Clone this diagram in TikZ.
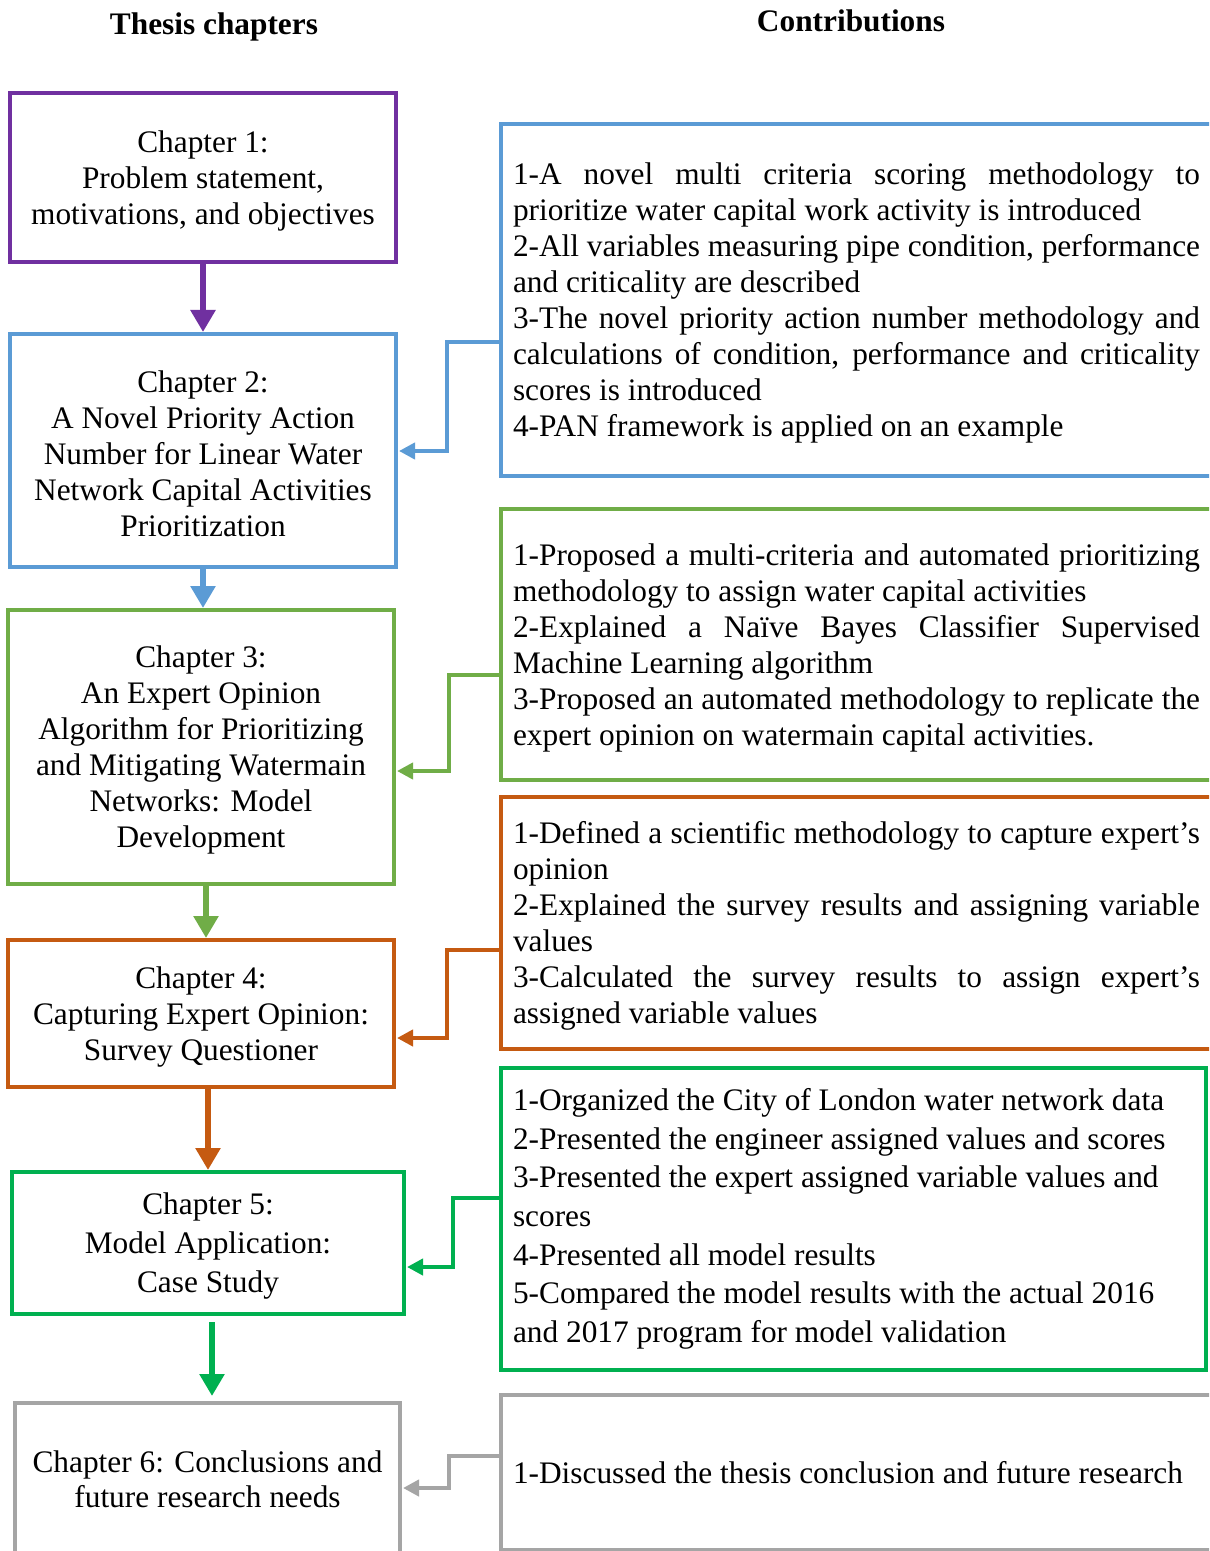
\documentclass[tikz,border=0pt]{standalone}
\usepackage{fontspec}
\setmainfont{Liberation Serif}
\usetikzlibrary{arrows.meta}
% one drawing unit = 0.75pt
\newdimen\pxu \pxu=0.75pt
\definecolor{cpurple}{HTML}{7030A0}
\definecolor{cblue}{HTML}{5B9BD5}
\definecolor{clgreen}{HTML}{70AD47}
\definecolor{corange}{HTML}{C55A11}
\definecolor{cgreen}{HTML}{00B050}
\definecolor{cgray}{HTML}{A5A5A5}
% justified / left-aligned lines of the contribution boxes
\newcommand\jl[1]{\makebox[687\pxu][s]{#1}}
\newcommand\rl[1]{\makebox[687\pxu][l]{#1}}
\newcommand\ql[1]{\makebox[681\pxu][l]{#1}}
% taller first line, lowers a text block slightly inside its box
\newcommand\st{\rule{0pt}{21pt}}
\begin{document}
\begin{tikzpicture}[x=0.75pt,y=-0.75pt,
  txt/.style={font=\fontsize{23.5}{27}\selectfont},
  heading/.style={font=\fontsize{23.5}{27}\selectfont\bfseries},
  chbox/.style={draw, line width=3pt, rectangle, align=center, inner sep=2pt, txt},
  cbox/.style={draw, line width=3pt, rectangle, align=left, inner sep=2pt, txt},
  mainarr/.style={line width=4.875pt, -{Triangle[length=16.5pt,width=18pt]}},
  conn/.style={line width=3.375pt, -{Triangle[length=12pt,width=12pt]}, shorten >=0.75pt}]
\useasboundingbox (0,0) rectangle (1209,1551);
\clip (0,0) rectangle (1209,1551);
\fill[white] (0,0) rectangle (1209,1551);

% column headings
\node[heading] (h1) at (214,27) {Thesis chapters};
\node[heading] (h2) at (851,21) {Contributions};

% thesis chapters
\node[chbox, draw=cpurple, minimum width=289.5pt, minimum height=126.75pt] (c1) at (203,177.5)
  {\st Chapter 1:\\ Problem statement,\\ motivations, and objectives};
\node[chbox, draw=cblue, minimum width=289.5pt, minimum height=174.75pt] (c2) at (203,450.5)
  {\st Chapter 2:\\ A Novel Priority Action\\ Number for Linear Water\\ Network Capital Activities\\ Prioritization};
\node[chbox, draw=clgreen, minimum width=289.5pt, minimum height=205.5pt] (c3) at (201,747)
  {\st Chapter 3:\\ An Expert Opinion\\ Algorithm for Prioritizing\\ and Mitigating Watermain\\ Networks: Model\\ Development};
\node[chbox, draw=corange, minimum width=289.5pt, minimum height=110.25pt] (c4) at (201,1013.5)
  {\st Chapter 4:\\ Capturing Expert Opinion:\\ Survey Questioner};
\node[chbox, draw=cgreen, minimum width=294pt, minimum height=106.5pt, font=\fontsize{23.5}{29}\selectfont] (c5) at (208,1243)
  {\st Chapter 5:\\ Model Application:\\ Case Study};
\node[chbox, draw=cgray, minimum width=288.75pt, minimum height=114.75pt, font=\fontsize{23.5}{26.3}\selectfont] (c6) at (207.5,1479.5)
  {Chapter 6: Conclusions and\\ future research needs};

% contributions
\node[cbox, draw=cblue, minimum width=533.25pt, minimum height=264pt] (r1) at (856.5,300)
  {\st\jl{1-A novel multi criteria scoring methodology to}\\
   \rl{prioritize water capital work activity is introduced}\\
   \jl{2-All variables measuring pipe condition, performance}\\
   \rl{and criticality are described}\\
   \jl{3-The novel priority action number methodology and}\\
   \jl{calculations of condition, performance and criticality}\\
   \rl{scores is introduced}\\
   \rl{4-PAN framework is applied on an example}};
\node[cbox, draw=clgreen, minimum width=533.25pt, minimum height=203.25pt] (r2) at (856.5,644.5)
  {\st\jl{1-Proposed a multi-criteria and automated prioritizing}\\
   \rl{methodology to assign water capital activities}\\
   \jl{2-Explained a Naïve Bayes Classifier Supervised}\\
   \rl{Machine Learning algorithm}\\
   \jl{3-Proposed an automated methodology to replicate the}\\
   \rl{expert opinion on watermain capital activities.}};
\node[cbox, draw=corange, minimum width=533.25pt, minimum height=189pt] (r3) at (856.5,923)
  {\st\jl{1-Defined a scientific methodology to capture expert’s}\\
   \rl{opinion}\\
   \jl{2-Explained the survey results and assigning variable}\\
   \rl{values}\\
   \jl{3-Calculated the survey results to assign expert’s}\\
   \rl{assigned variable values}};
\node[cbox, draw=cgreen, minimum width=528.75pt, minimum height=226.5pt, font=\fontsize{23.5}{29}\selectfont] (r4) at (853.5,1219)
  {\ql{1-Organized the City of London water network data}\\
   \ql{2-Presented the engineer assigned values and scores}\\
   \ql{3-Presented the expert assigned variable values and}\\
   \ql{scores}\\
   \ql{4-Presented all model results}\\
   \ql{5-Compared the model results with the actual 2016}\\
   \ql{and 2017 program for model validation}};
\node[cbox, draw=cgray, minimum width=533.25pt, minimum height=116.25pt] (r5) at (856.5,1472.5)
  {\rl{1-Discussed the thesis conclusion and future research}};

% chapter sequence
\draw[mainarr, cpurple] (c1.south) -- (c2.north);
\draw[mainarr, cblue] (c2.south) -- (c2.south |- c3.north);
\draw[mainarr, clgreen] ([xshift=3.75pt]c3.south) -- ([xshift=3.75pt]c4.north);
\draw[mainarr, corange] (c5.north |- c4.south) -- (c5.north);
\draw[mainarr, cgreen] ([xshift=3pt,yshift=-4.5pt]c5.south) -- ([xshift=3.375pt,yshift=3.75pt]c6.north);

% contributions feeding the chapters
\draw[conn, cblue] ([yshift=-31.5pt]r1.west) -- ++(-52,0) |- ([yshift=-0.375pt]c2.east);
\draw[conn, clgreen] ([yshift=-22.875pt]r2.west) -- ++(-50,0) |- ([yshift=-18pt]c3.east);
\draw[conn, corange] ([yshift=-20.25pt]r3.west) -- ++(-52,0) |- ([yshift=-18.375pt]c4.east);
\draw[conn, cgreen] ([yshift=15.75pt]r4.west) -- ++(-46,0) |- ([yshift=-18pt]c5.east);
\draw[conn, cgray] ([yshift=12.375pt]r5.west) -- ++(-50,0) |- ([yshift=-6.375pt]c6.east);
\end{tikzpicture}
\end{document}
